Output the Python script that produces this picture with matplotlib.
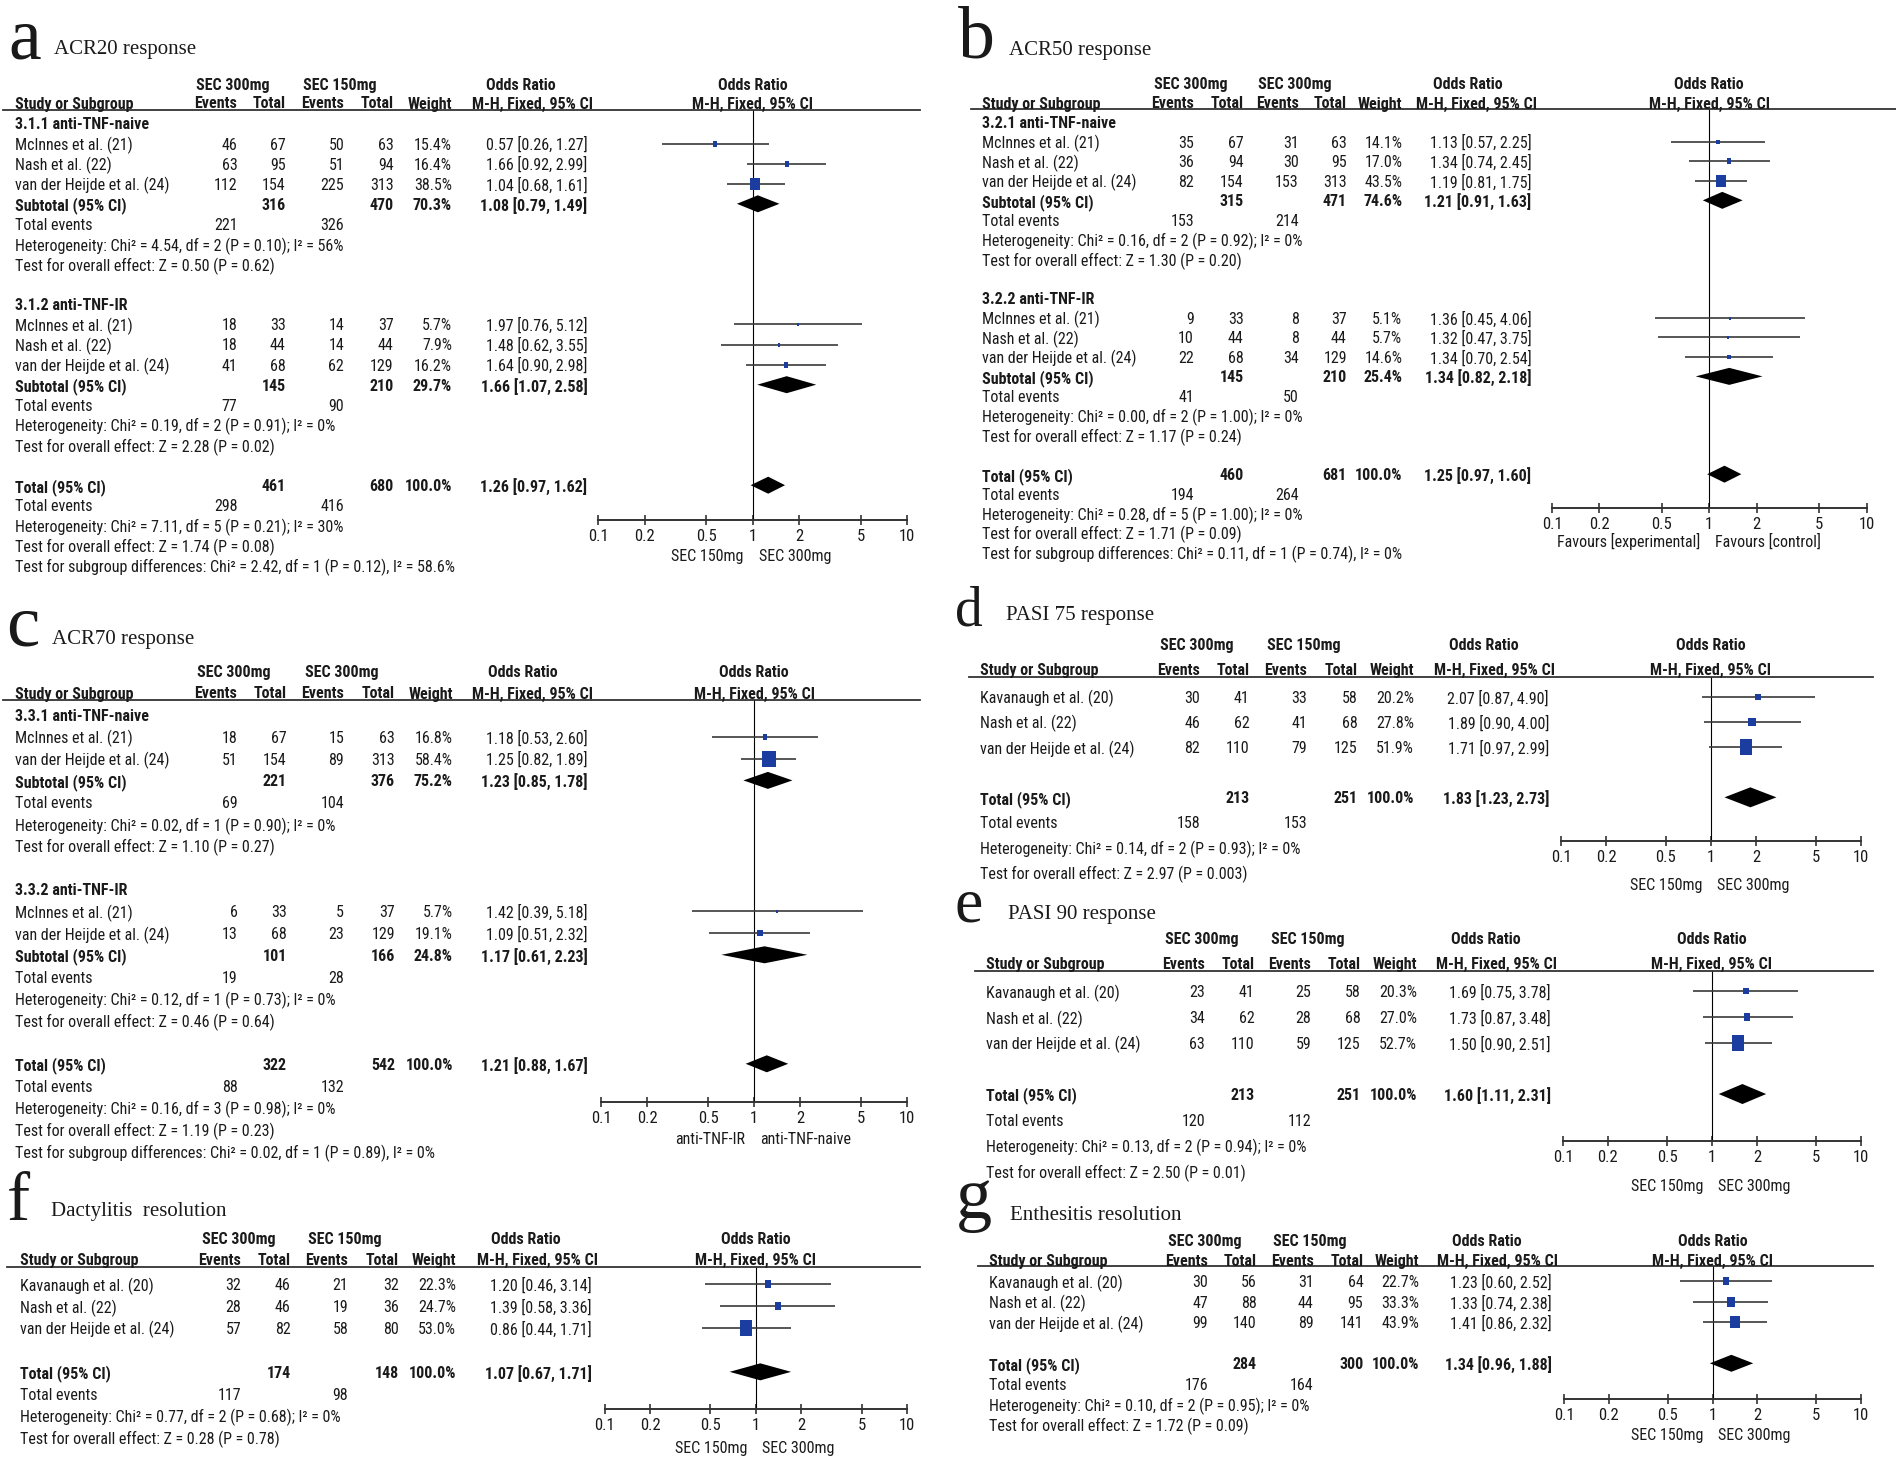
import matplotlib
matplotlib.use("Agg")
import matplotlib.pyplot as plt
from matplotlib import font_manager as fm
from matplotlib.transforms import Affine2D
from matplotlib.lines import Line2D
from matplotlib.ticker import NullLocator

W, H = 1896, 1464

# ---------------- data ----------------
mh_studies = ["McInnes et al. (21)", "Nash et al. (22)", "van der Heijde et al. (24)"]
mv_studies = ["McInnes et al. (21)", "van der Heijde et al. (24)"]
knv_studies = ["Kavanaugh et al. (20)", "Nash et al. (22)", "van der Heijde et al. (24)"]

# a  ACR20
a_groups = ["3.1.1 anti-TNF-naive", "3.1.2 anti-TNF-IR"]
a_ev1 = [[46, 63, 112], [18, 18, 41]]
a_n1 = [[67, 95, 154], [33, 44, 68]]
a_ev2 = [[50, 51, 225], [14, 14, 62]]
a_n2 = [[63, 94, 313], [37, 44, 129]]
a_wt = [[15.4, 16.4, 38.5], [5.7, 7.9, 16.2]]
a_or = [[0.57, 1.66, 1.04], [1.97, 1.48, 1.64]]
a_lo = [[0.26, 0.92, 0.68], [0.76, 0.62, 0.90]]
a_hi = [[1.27, 2.99, 1.61], [5.12, 3.55, 2.98]]
a_sub_n1 = [316, 145]
a_sub_n2 = [470, 210]
a_sub_wt = [70.3, 29.7]
a_sub_or = [1.08, 1.66]
a_sub_lo = [0.79, 1.07]
a_sub_hi = [1.49, 2.58]
a_sub_ev1 = [221, 77]
a_sub_ev2 = [326, 90]
a_sub_het = ["Chi² = 4.54, df = 2 (P = 0.10); I² = 56%", "Chi² = 0.19, df = 2 (P = 0.91); I² = 0%"]
a_sub_z = ["Z = 0.50 (P = 0.62)", "Z = 2.28 (P = 0.02)"]
a_tot = [461, 680, 100.0, 1.26, 0.97, 1.62, 298, 416]
a_tot_het = "Chi² = 7.11, df = 5 (P = 0.21); I² = 30%"
a_tot_z = "Z = 1.74 (P = 0.08)"
a_subdiff = "Chi² = 2.42, df = 1 (P = 0.12), I² = 58.6%"

# b  ACR50
b_groups = ["3.2.1 anti-TNF-naive", "3.2.2 anti-TNF-IR"]
b_ev1 = [[35, 36, 82], [9, 10, 22]]
b_n1 = [[67, 94, 154], [33, 44, 68]]
b_ev2 = [[31, 30, 153], [8, 8, 34]]
b_n2 = [[63, 95, 313], [37, 44, 129]]
b_wt = [[14.1, 17.0, 43.5], [5.1, 5.7, 14.6]]
b_or = [[1.13, 1.34, 1.19], [1.36, 1.32, 1.34]]
b_lo = [[0.57, 0.74, 0.81], [0.45, 0.47, 0.70]]
b_hi = [[2.25, 2.45, 1.75], [4.06, 3.75, 2.54]]
b_sub_n1 = [315, 145]
b_sub_n2 = [471, 210]
b_sub_wt = [74.6, 25.4]
b_sub_or = [1.21, 1.34]
b_sub_lo = [0.91, 0.82]
b_sub_hi = [1.63, 2.18]
b_sub_ev1 = [153, 41]
b_sub_ev2 = [214, 50]
b_sub_het = ["Chi² = 0.16, df = 2 (P = 0.92); I² = 0%", "Chi² = 0.00, df = 2 (P = 1.00); I² = 0%"]
b_sub_z = ["Z = 1.30 (P = 0.20)", "Z = 1.17 (P = 0.24)"]
b_tot = [460, 681, 100.0, 1.25, 0.97, 1.60, 194, 264]
b_tot_het = "Chi² = 0.28, df = 5 (P = 1.00); I² = 0%"
b_tot_z = "Z = 1.71 (P = 0.09)"
b_subdiff = "Chi² = 0.11, df = 1 (P = 0.74), I² = 0%"

# c  ACR70
c_groups = ["3.3.1 anti-TNF-naive", "3.3.2 anti-TNF-IR"]
c_ev1 = [[18, 51], [6, 13]]
c_n1 = [[67, 154], [33, 68]]
c_ev2 = [[15, 89], [5, 23]]
c_n2 = [[63, 313], [37, 129]]
c_wt = [[16.8, 58.4], [5.7, 19.1]]
c_or = [[1.18, 1.25], [1.42, 1.09]]
c_lo = [[0.53, 0.82], [0.39, 0.51]]
c_hi = [[2.60, 1.89], [5.18, 2.32]]
c_sub_n1 = [221, 101]
c_sub_n2 = [376, 166]
c_sub_wt = [75.2, 24.8]
c_sub_or = [1.23, 1.17]
c_sub_lo = [0.85, 0.61]
c_sub_hi = [1.78, 2.23]
c_sub_ev1 = [69, 19]
c_sub_ev2 = [104, 28]
c_sub_het = ["Chi² = 0.02, df = 1 (P = 0.90); I² = 0%", "Chi² = 0.12, df = 1 (P = 0.73); I² = 0%"]
c_sub_z = ["Z = 1.10 (P = 0.27)", "Z = 0.46 (P = 0.64)"]
c_tot = [322, 542, 100.0, 1.21, 0.88, 1.67, 88, 132]
c_tot_het = "Chi² = 0.16, df = 3 (P = 0.98); I² = 0%"
c_tot_z = "Z = 1.19 (P = 0.23)"
c_subdiff = "Chi² = 0.02, df = 1 (P = 0.89), I² = 0%"

# d  PASI 75
d_ev1 = [30, 46, 82]
d_n1 = [41, 62, 110]
d_ev2 = [33, 41, 79]
d_n2 = [58, 68, 125]
d_wt = [20.2, 27.8, 51.9]
d_or = [2.07, 1.89, 1.71]
d_lo = [0.87, 0.90, 0.97]
d_hi = [4.90, 4.00, 2.99]
d_tot = [213, 251, 100.0, 1.83, 1.23, 2.73, 158, 153]
d_tot_het = "Chi² = 0.14, df = 2 (P = 0.93); I² = 0%"
d_tot_z = "Z = 2.97 (P = 0.003)"

# e  PASI 90
e_ev1 = [23, 34, 63]
e_n1 = [41, 62, 110]
e_ev2 = [25, 28, 59]
e_n2 = [58, 68, 125]
e_wt = [20.3, 27.0, 52.7]
e_or = [1.69, 1.73, 1.50]
e_lo = [0.75, 0.87, 0.90]
e_hi = [3.78, 3.48, 2.51]
e_tot = [213, 251, 100.0, 1.60, 1.11, 2.31, 120, 112]
e_tot_het = "Chi² = 0.13, df = 2 (P = 0.94); I² = 0%"
e_tot_z = "Z = 2.50 (P = 0.01)"

# f  Dactylitis
f_ev1 = [32, 28, 57]
f_n1 = [46, 46, 82]
f_ev2 = [21, 19, 58]
f_n2 = [32, 36, 80]
f_wt = [22.3, 24.7, 53.0]
f_or = [1.20, 1.39, 0.86]
f_lo = [0.46, 0.58, 0.44]
f_hi = [3.14, 3.36, 1.71]
f_tot = [174, 148, 100.0, 1.07, 0.67, 1.71, 117, 98]
f_tot_het = "Chi² = 0.77, df = 2 (P = 0.68); I² = 0%"
f_tot_z = "Z = 0.28 (P = 0.78)"

# g  Enthesitis
g_ev1 = [30, 47, 99]
g_n1 = [56, 88, 140]
g_ev2 = [31, 44, 89]
g_n2 = [64, 95, 141]
g_wt = [22.7, 33.3, 43.9]
g_or = [1.23, 1.33, 1.41]
g_lo = [0.60, 0.74, 0.86]
g_hi = [2.52, 2.38, 2.32]
g_tot = [284, 300, 100.0, 1.34, 0.96, 1.88, 176, 164]
g_tot_het = "Chi² = 0.10, df = 2 (P = 0.95); I² = 0%"
g_tot_z = "Z = 1.72 (P = 0.09)"

ticks = [0.1, 0.2, 0.5, 1, 2, 5, 10]
tick_labels = ["0.1", "0.2", "0.5", "1", "2", "5", "10"]

# ---------------- fonts ----------------
names = {f.name for f in fm.fontManager.ttflist}
SANS, FS = "Liberation Sans", 10.5
for cand in ["Liberation Sans Narrow", "Arial Narrow", "Roboto Condensed", "Open Sans Condensed"]:
    if cand in names:
        SANS, FS = cand, 11.5
        break
SERIF = "Liberation Serif"
INK = "#1a1a1a"
BLUE = "#1b3d9f"

fig = plt.figure(figsize=(W / 100, H / 100), dpi=100)
PX = Affine2D().scale(1 / W, -1 / H).translate(0, 1) + fig.transFigure


def txt(x, y, s, ha="left", bold=False, size=None, family=None, va="center_baseline"):
    fig.text(x, y, s, transform=PX, ha=ha, va=va, fontsize=size or FS,
             family=family or SANS, fontweight="bold" if bold else "normal", color=INK)


def ci_str(o, l, h):
    return f"{o:.2f} [{l:.2f}, {h:.2f}]"


# marker shape: slightly narrower than tall, as in the source
RECT = [(-0.42, -0.5), (0.42, -0.5), (0.42, 0.5), (-0.42, 0.5), (-0.42, -0.5)]


def draw_panel(L, arms, favours, groups, studies, ev1, n1, ev2, n2, wt, orr, lo, hi,
               sub=None, tot=None, tot_het="", tot_z="", subdiff=None):
    # panel letter and title
    txt(L["lx"], L["lby"], L["letter"], family=SERIF, size=L["lsize"], va="baseline")
    txt(L["tx"], L["tby"], L["title"], family=SERIF, size=15, va="baseline")

    fc = (L["fx0"] + L["fx1"]) / 2
    # header
    txt(L["h1c1"], L["h1y"], arms[0], ha="center", bold=True)
    txt(L["h1c2"], L["h1y"], arms[1], ha="center", bold=True)
    txt(L["orc"], L["h1y"], "Odds Ratio", ha="center", bold=True)
    txt(fc, L["h1y"], "Odds Ratio", ha="center", bold=True)
    txt(L["sx"], L["h2y"], "Study or Subgroup", bold=True)
    for key, lab in [("ev1", "Events"), ("n1", "Total"), ("ev2", "Events"),
                     ("n2", "Total"), ("wt", "Weight")]:
        txt(L[key], L["h2y"], lab, ha="right", bold=True)
    txt(L["ci"] + 6, L["h2y"], "M-H, Fixed, 95% CI", ha="right", bold=True)
    txt(fc, L["h2y"], "M-H, Fixed, 95% CI", ha="center", bold=True)
    fig.add_artist(Line2D([L["rx0"], L["rx1"]], [L["ry"], L["ry"]], transform=PX,
                          color="#333333", lw=1.3))

    # forest axes, y measured in pixels from the top of the figure
    ax = fig.add_axes([L["fx0"] / W, 1 - L["ay"] / H, (L["fx1"] - L["fx0"]) / W,
                       (L["ay"] - L["ry"]) / H])
    ax.set_xscale("log")
    ax.set_xlim(0.1, 10)
    ax.set_ylim(L["ay"], L["ry"])
    ax.patch.set_visible(False)
    for s in ["top", "right", "left"]:
        ax.spines[s].set_visible(False)
    ax.spines["bottom"].set_color("#333333")
    ax.spines["bottom"].set_linewidth(1.4)
    ax.set_yticks([])
    ax.set_xticks(ticks, labels=tick_labels)
    ax.xaxis.set_minor_locator(NullLocator())
    ax.tick_params(axis="x", direction="inout", length=7, width=1.2, pad=3,
                   labelsize=FS + 0.5, colors="#333333", labelcolor=INK)
    for t in ax.get_xticklabels():
        t.set_family(SANS)
    ax.axvline(1, color="black", lw=0.8)

    txt(fc - 9, L["suby"], favours[0], ha="right")
    txt(fc + 6, L["suby"], favours[1], ha="left")

    def row_y(r):
        return L["r0"] + r * L["dy"]

    def diamond(y, o, l, h):
        hh = L["dh"] / 2
        ax.fill([l, o, h, o], [y, y - hh, y, y + hh], color="black", lw=0, clip_on=False)

    r = 0
    for g in range(len(groups)):
        if groups[g]:
            txt(L["sx"], row_y(r), groups[g], bold=True)
            r += 1
        for i, name in enumerate(studies[g]):
            y = row_y(r)
            txt(L["sx"], y, name)
            txt(L["ev1"], y, str(ev1[g][i]), ha="right")
            txt(L["n1"], y, str(n1[g][i]), ha="right")
            txt(L["ev2"], y, str(ev2[g][i]), ha="right")
            txt(L["n2"], y, str(n2[g][i]), ha="right")
            txt(L["wt"], y, f"{wt[g][i]:.1f}%", ha="right")
            txt(L["ci"], y, ci_str(orr[g][i], lo[g][i], hi[g][i]), ha="right")
            ax.plot([lo[g][i], hi[g][i]], [y, y], color="#3a3a3a", lw=1.2,
                    solid_capstyle="butt", clip_on=False)
            hpx = max(3.0, 0.27 * wt[g][i] + 1)
            ax.scatter([orr[g][i]], [y], marker=RECT, s=(hpx * 0.72) ** 2, color=BLUE,
                       linewidths=0, zorder=3, clip_on=False)
            r += 1
        if sub is not None:
            y = row_y(r)
            txt(L["sx"], y, "Subtotal (95% CI)", bold=True)
            txt(L["n1"], y, str(sub["n1"][g]), ha="right", bold=True)
            txt(L["n2"], y, str(sub["n2"][g]), ha="right", bold=True)
            txt(L["wt"], y, f"{sub['wt'][g]:.1f}%", ha="right", bold=True)
            txt(L["ci"], y, ci_str(sub["or"][g], sub["lo"][g], sub["hi"][g]), ha="right", bold=True)
            diamond(y, sub["or"][g], sub["lo"][g], sub["hi"][g])
            y = row_y(r + 1)
            txt(L["sx"], y, "Total events")
            txt(L["ev1"], y, str(sub["ev1"][g]), ha="right")
            txt(L["ev2"], y, str(sub["ev2"][g]), ha="right")
            txt(L["sx"], row_y(r + 2), "Heterogeneity: " + sub["het"][g])
            txt(L["sx"], row_y(r + 3), "Test for overall effect: " + sub["z"][g])
            r += 5
    if sub is None:
        r += 1

    tn1, tn2, twt, tor, tlo, thi, tev1, tev2 = tot
    y = row_y(r)
    txt(L["sx"], y, "Total (95% CI)", bold=True)
    txt(L["n1"], y, str(tn1), ha="right", bold=True)
    txt(L["n2"], y, str(tn2), ha="right", bold=True)
    txt(L["wt"], y, f"{twt:.1f}%", ha="right", bold=True)
    txt(L["ci"], y, ci_str(tor, tlo, thi), ha="right", bold=True)
    diamond(y, tor, tlo, thi)
    y = row_y(r + 1)
    txt(L["sx"], y, "Total events")
    txt(L["ev1"], y, str(tev1), ha="right")
    txt(L["ev2"], y, str(tev2), ha="right")
    txt(L["sx"], row_y(r + 2), "Heterogeneity: " + tot_het)
    txt(L["sx"], row_y(r + 3), "Test for overall effect: " + tot_z)
    if subdiff:
        txt(L["sx"], row_y(r + 4), "Test for subgroup differences: " + subdiff)


def subd(n1, n2, wt, o, lo, hi, ev1, ev2, het, z):
    return {"n1": n1, "n2": n2, "wt": wt, "or": o, "lo": lo, "hi": hi,
            "ev1": ev1, "ev2": ev2, "het": het, "z": z}


# ---------------- layout (pixel positions) ----------------
LA = dict(letter="a", lx=8, lby=58.7, lsize=53, title="ACR20 response", tx=54, tby=53.7,
          sx=14.8, ev1=237.4, n1=285.8, ev2=344.2, n2=393.6, wt=452, ci=587.5, h1c1=232.4,
          h1c2=340.2, orc=521, fx0=598.4, fx1=907, h1y=83.6, h2y=102.5, ry=109.5, rx0=3,
          rx1=920, r0=123.4, dy=20.1, ay=519.5, suby=555.3, dh=17)
LB = dict(letter="b", lx=958, lby=57, lsize=53, title="ACR50 response", tx=1009, tby=55,
          sx=981.7, ev1=1194, n1=1243.6, ev2=1298.6, n2=1346.8, wt=1402.3, ci=1531.3,
          h1c1=1191, h1c2=1295.2, orc=1467.8, fx0=1552, fx1=1866.5, h1y=83.2, h2y=102.5,
          ry=108.5, rx0=971, rx1=1896, r0=122.1, dy=19.56, ay=507.5, suby=540.4, dh=17)
LC = dict(letter="c", lx=6, lby=645.7, lsize=54, title="ACR70 response", tx=52, tby=643.7,
          sx=14.8, ev1=237.4, n1=286.8, ev2=344.2, n2=395, wt=453, ci=587.5, h1c1=233.4,
          h1c2=342.2, orc=523, fx0=601.3, fx1=907, h1y=671.4, h2y=692.5, ry=699.5, rx0=3,
          rx1=920, r0=715, dy=21.8, ay=1101.5, suby=1138.4, dh=17)
LD = dict(letter="d", lx=955, lby=626, lsize=40, title="PASI 75 response", tx=1006, tby=620,
          sx=979.8, ev1=1200, n1=1249.6, ev2=1307, n2=1357.3, wt=1414.2, ci=1549, h1c1=1197,
          h1c2=1304, orc=1483.6, fx0=1561, fx1=1861, h1y=644, h2y=669, ry=677, rx0=969,
          rx1=1873, r0=696.7, dy=25.16, ay=841, suby=884, dh=20)
LE = dict(letter="e", lx=955, lby=922, lsize=46, title="PASI 90 response", tx=1008, tby=919,
          sx=986.2, ev1=1205, n1=1254.5, ev2=1311, n2=1360.3, wt=1417, ci=1551, h1c1=1202,
          h1c2=1308, orc=1485.6, fx0=1563, fx1=1861, h1y=938, h2y=963, ry=971, rx0=975,
          rx1=1873, r0=991.4, dy=25.66, ay=1141, suby=1185, dh=20)
LF = dict(letter="f", lx=7, lby=1220, lsize=50, title="Dactylitis  resolution", tx=51, tby=1216,
          sx=19.8, ev1=241.3, n1=290.8, ev2=348.1, n2=398.6, wt=456, ci=592, h1c1=238.3,
          h1c2=345.2, orc=526, fx0=604.8, fx1=907, h1y=1238, h2y=1259, ry=1267, rx0=7,
          rx1=920, r0=1284, dy=21.96, ay=1409, suby=1447, dh=17)
LG = dict(letter="g", lx=956, lby=1218, lsize=52, title="Enthesitis resolution", tx=1010, tby=1220,
          sx=989.2, ev1=1208, n1=1256.5, ev2=1313.8, n2=1363.3, wt=1419, ci=1552, h1c1=1204.6,
          h1c2=1310, orc=1486.6, fx0=1564, fx1=1861, h1y=1240, h2y=1260, ry=1266, rx0=978,
          rx1=1873, r0=1281.3, dy=20.5, ay=1399, suby=1434, dh=17)

sec = ("SEC 150mg", "SEC 300mg")

draw_panel(LA, ("SEC 300mg", "SEC 150mg"), sec, a_groups, [mh_studies, mh_studies],
           a_ev1, a_n1, a_ev2, a_n2, a_wt, a_or, a_lo, a_hi,
           sub=subd(a_sub_n1, a_sub_n2, a_sub_wt, a_sub_or, a_sub_lo, a_sub_hi,
                    a_sub_ev1, a_sub_ev2, a_sub_het, a_sub_z),
           tot=a_tot, tot_het=a_tot_het, tot_z=a_tot_z, subdiff=a_subdiff)
draw_panel(LB, ("SEC 300mg", "SEC 300mg"), ("Favours [experimental]", "Favours [control]"),
           b_groups, [mh_studies, mh_studies],
           b_ev1, b_n1, b_ev2, b_n2, b_wt, b_or, b_lo, b_hi,
           sub=subd(b_sub_n1, b_sub_n2, b_sub_wt, b_sub_or, b_sub_lo, b_sub_hi,
                    b_sub_ev1, b_sub_ev2, b_sub_het, b_sub_z),
           tot=b_tot, tot_het=b_tot_het, tot_z=b_tot_z, subdiff=b_subdiff)
draw_panel(LC, ("SEC 300mg", "SEC 300mg"), ("anti-TNF-IR", "anti-TNF-naive"),
           c_groups, [mv_studies, mv_studies],
           c_ev1, c_n1, c_ev2, c_n2, c_wt, c_or, c_lo, c_hi,
           sub=subd(c_sub_n1, c_sub_n2, c_sub_wt, c_sub_or, c_sub_lo, c_sub_hi,
                    c_sub_ev1, c_sub_ev2, c_sub_het, c_sub_z),
           tot=c_tot, tot_het=c_tot_het, tot_z=c_tot_z, subdiff=c_subdiff)
draw_panel(LD, ("SEC 300mg", "SEC 150mg"), sec, [None], [knv_studies],
           [d_ev1], [d_n1], [d_ev2], [d_n2], [d_wt], [d_or], [d_lo], [d_hi],
           tot=d_tot, tot_het=d_tot_het, tot_z=d_tot_z)
draw_panel(LE, ("SEC 300mg", "SEC 150mg"), sec, [None], [knv_studies],
           [e_ev1], [e_n1], [e_ev2], [e_n2], [e_wt], [e_or], [e_lo], [e_hi],
           tot=e_tot, tot_het=e_tot_het, tot_z=e_tot_z)
draw_panel(LF, ("SEC 300mg", "SEC 150mg"), sec, [None], [knv_studies],
           [f_ev1], [f_n1], [f_ev2], [f_n2], [f_wt], [f_or], [f_lo], [f_hi],
           tot=f_tot, tot_het=f_tot_het, tot_z=f_tot_z)
draw_panel(LG, ("SEC 300mg", "SEC 150mg"), sec, [None], [knv_studies],
           [g_ev1], [g_n1], [g_ev2], [g_n2], [g_wt], [g_or], [g_lo], [g_hi],
           tot=g_tot, tot_het=g_tot_het, tot_z=g_tot_z)

fig.savefig("out.png", dpi=100, facecolor="white")
